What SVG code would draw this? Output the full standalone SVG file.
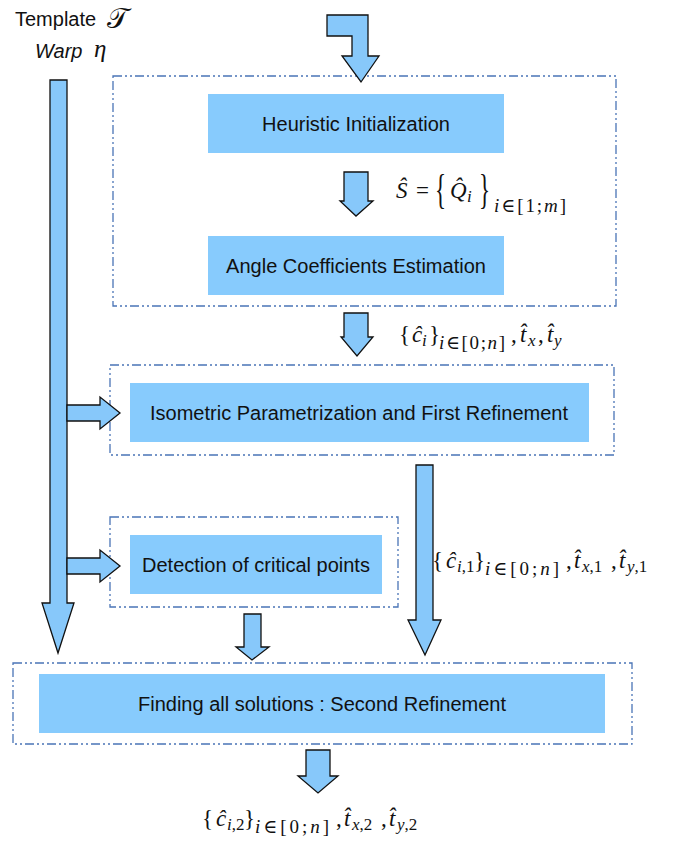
<svg xmlns="http://www.w3.org/2000/svg" width="688" height="842" viewBox="0 0 688 842">
<style>
.frame{fill:none;stroke:#4a74b6;stroke-width:1.3;stroke-dasharray:9,3,2,3,2,3}
.node{fill:#87CBFD}
.lbl{font-family:"Liberation Sans",Arial,sans-serif;font-size:20px;fill:#111;text-anchor:middle}
.arr{fill:#87C8FA;stroke:#111;stroke-width:1.3;stroke-linejoin:miter}
.m{font-family:"Liberation Serif","DejaVu Serif",serif;font-size:23px;fill:#111}
.mi{font-family:"Liberation Serif","DejaVu Serif",serif;font-size:23px;font-style:italic;fill:#111}
.s{font-family:"Liberation Serif","DejaVu Serif",serif;font-size:17px;font-style:italic;fill:#111}
.x{font-family:"Liberation Serif","DejaVu Serif",serif;font-size:19px;font-style:italic;fill:#111}
.su{font-style:normal}
.t{font-family:"Liberation Sans",Arial,sans-serif;font-size:20px;fill:#111}
</style>
<rect width="688" height="842" fill="#fff"/>
<g id="inputs">
<text class="t" x="15" y="26">Template</text>
<text x="107" y="28" style="font-family:'DejaVu Sans',serif;font-size:28px;fill:#111">𝒯</text>
<text class="t" x="35" y="58" style="font-style:italic">Warp</text>
<text class="mi" x="94" y="57" style="font-size:25px">η</text>
</g>
<g id="frames">
<rect class="frame" x="113" y="76" width="503" height="230"/>
<rect class="frame" x="110" y="365" width="504" height="90"/>
<rect class="frame" x="110" y="517" width="288" height="90"/>
<rect class="frame" x="13" y="663" width="619" height="81"/>
</g>
<g id="node-heuristic">
<rect class="node" x="208" y="94" width="296" height="59"/>
<text class="lbl" x="356" y="131">Heuristic Initialization</text>
</g>
<g id="node-angle">
<rect class="node" x="208" y="236" width="296" height="59"/>
<text class="lbl" x="356" y="273">Angle Coefficients Estimation</text>
</g>
<g id="node-isometric">
<rect class="node" x="130" y="383" width="459" height="59"/>
<text class="lbl" x="359" y="420">Isometric Parametrization and First Refinement</text>
</g>
<g id="node-detection">
<rect class="node" x="130" y="535" width="252" height="59"/>
<text class="lbl" x="256" y="572">Detection of critical points</text>
</g>
<g id="node-finding">
<rect class="node" x="39" y="674" width="566" height="59"/>
<text class="lbl" x="322" y="711">Finding all solutions : Second Refinement</text>
</g>
<g id="connectors">
<path class="arr" d="M327,15 H368 V56 H379 L361,82 L342,56 H352 V36 H327 Z"/>
<path class="arr" d="M344,172 H368 V201 H373 L356,216 L340,201 H344 Z"/>
<path class="arr" d="M344,313 H368 V337 H373 L357,356 L341,337 H344 Z"/>
<path class="arr" d="M50,80 H67 V603 H74 L58,653 L42,603 H50 Z"/>
<path class="arr" d="M67,405 H100 V397 L120,413 L100,429 V421 H67 Z"/>
<path class="arr" d="M67,558 H100 V550 L120,566 L100,582 V574 H67 Z"/>
<path class="arr" d="M416,465 H433 V620 H441 L425,655 L408,620 H416 Z"/>
<path class="arr" d="M244,614 H261 V647 H269 L252,660 L236,647 H244 Z"/>
<path class="arr" d="M306,750 H330 V776 H338 L318,793 L298,776 H306 Z"/>
</g>
<g id="label-S">
<text class="mi" x="396" y="198">Ŝ</text>
<text class="m" x="416" y="198">=</text>
<text class="m" transform="translate(435,203) scale(1,1.8)" x="0" y="0">{</text>
<text class="mi" x="450" y="198">Q̂</text>
<text class="s" x="467" y="202">i</text>
<text class="m" transform="translate(479,203) scale(1,1.8)" x="0" y="0">}</text>
<text class="x" x="494" y="212" textLength="72" lengthAdjust="spacing">i<tspan class="su">∈[1;</tspan>m<tspan class="su">]</tspan></text>
</g>
<g id="label-c">
<text class="m" x="399" y="342">{</text>
<text class="mi" x="412" y="342">ĉ</text>
<text class="s" x="422" y="346">i</text>
<text class="m" x="429" y="342">}</text>
<text class="x" x="439" y="349" textLength="66" lengthAdjust="spacing">i<tspan class="su">∈[0;</tspan>n<tspan class="su">]</tspan></text>
<text class="m" x="511" y="342">,</text>
<text class="mi" x="520" y="342">t̂</text>
<text class="s" x="528" y="346">x</text>
<text class="m" x="538" y="342">,</text>
<text class="mi" x="547" y="342">t̂</text>
<text class="s" x="554" y="346">y</text>
</g>
<g id="label-c1">
<text class="m" x="432" y="568">{</text>
<text class="mi" x="446" y="568">ĉ</text>
<text class="s" x="457" y="572">i<tspan class="su">,1</tspan></text>
<text class="m" x="474" y="568">}</text>
<text class="x" x="485" y="575" textLength="74" lengthAdjust="spacing">i<tspan class="su">∈[0;</tspan>n<tspan class="su">]</tspan></text>
<text class="m" x="566" y="568">,</text>
<text class="mi" x="574" y="568">t̂</text>
<text class="s" x="582" y="572">x<tspan class="su">,1</tspan></text>
<text class="m" x="611" y="568">,</text>
<text class="mi" x="619" y="568">t̂</text>
<text class="s" x="627" y="572">y<tspan class="su">,1</tspan></text>
</g>
<g id="label-c2">
<text class="m" x="202" y="826">{</text>
<text class="mi" x="216" y="826">ĉ</text>
<text class="s" x="227" y="830">i<tspan class="su">,2</tspan></text>
<text class="m" x="244" y="826">}</text>
<text class="x" x="255" y="833" textLength="74" lengthAdjust="spacing">i<tspan class="su">∈[0;</tspan>n<tspan class="su">]</tspan></text>
<text class="m" x="336" y="826">,</text>
<text class="mi" x="344" y="826">t̂</text>
<text class="s" x="352" y="830">x<tspan class="su">,2</tspan></text>
<text class="m" x="381" y="826">,</text>
<text class="mi" x="389" y="826">t̂</text>
<text class="s" x="397" y="830">y<tspan class="su">,2</tspan></text>
</g>
</svg>
